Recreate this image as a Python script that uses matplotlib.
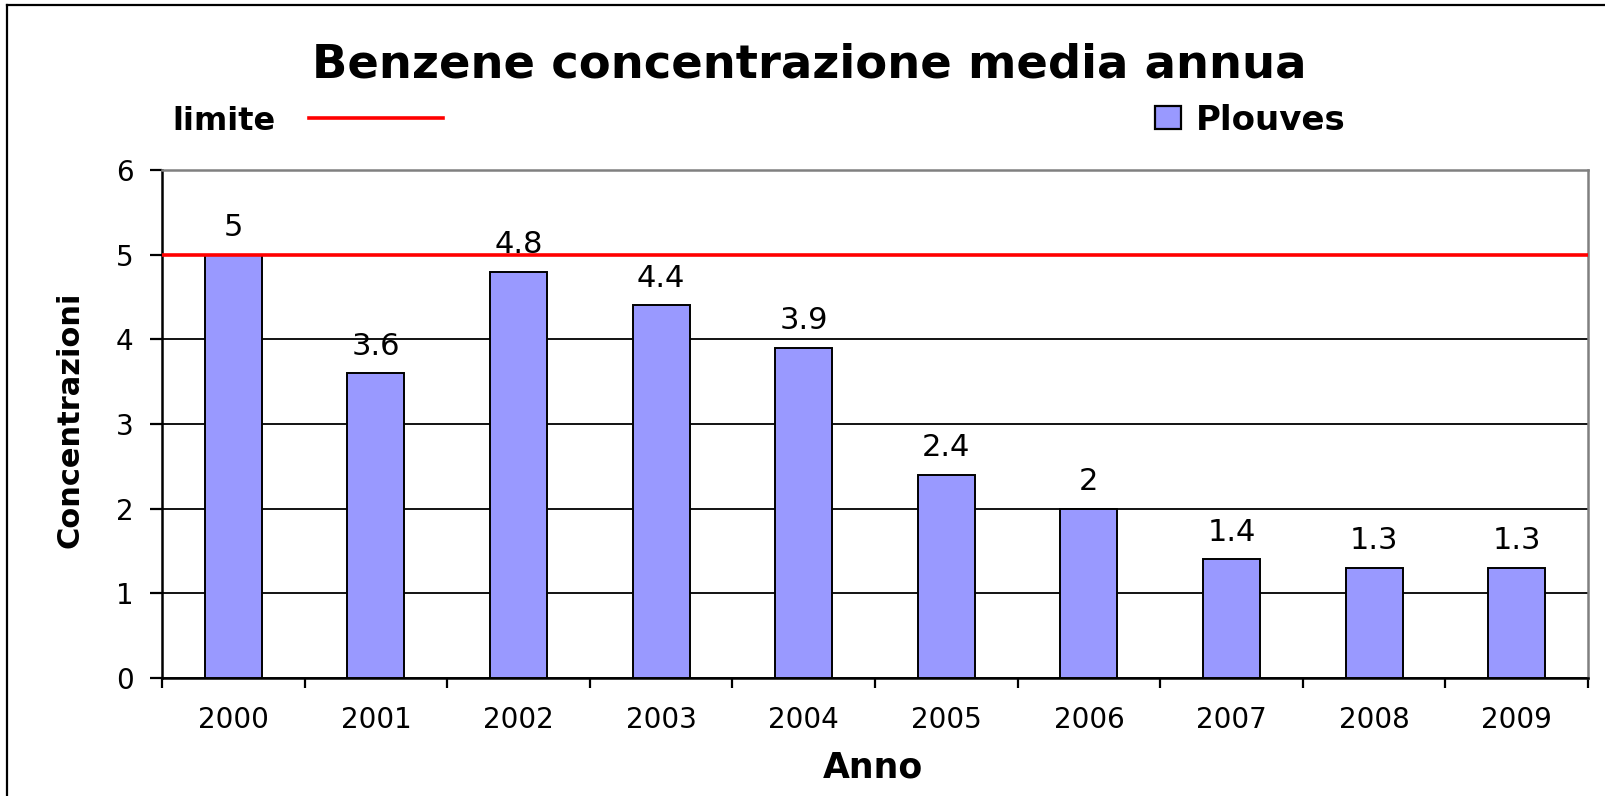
import matplotlib
matplotlib.use("Agg")
import matplotlib.pyplot as plt
from matplotlib.lines import Line2D
from matplotlib.patches import Rectangle
import numpy as np

# ---- data ----
years = ["2000", "2001", "2002", "2003", "2004", "2005", "2006", "2007", "2008", "2009"]
plouves = [5, 3.6, 4.8, 4.4, 3.9, 2.4, 2, 1.4, 1.3, 1.3]
limite = 5
title = "Benzene concentrazione media annua"
xlabel = "Anno"
ylabel = "Concentrazioni"

W, H = 1606, 796
plt.rcParams['font.family'] = ['DejaVu Sans']
fig = plt.figure(figsize=(W / 100, H / 100), dpi=100)
fig.patch.set_facecolor('white')

ax = fig.add_axes([162 / W, 1 - 678 / H, (1588 - 162) / W, (678 - 170) / H])

x = np.arange(len(years))
bars = ax.bar(x, plouves, width=0.4, color='#9999FF', edgecolor='black',
              linewidth=1.4, zorder=3, label='Plouves')
lim_line = ax.axhline(limite, color='#FF0000', linewidth=2.6, zorder=5, label='limite')

ax.bar_label(bars, fmt='%g', padding=9, fontsize=22, zorder=4)

ax.set_xlim(-0.5, len(years) - 0.5)
ax.set_ylim(0, 6)
ax.set_yticks(range(0, 7))
ax.set_xticks(x)
ax.set_xticklabels(years)
ax.set_xticks(np.arange(-0.5, len(years), 1.0), minor=True)

ax.tick_params(axis='x', which='major', length=0, pad=20, labelsize=20)
ax.tick_params(axis='x', which='minor', length=7.5, width=1.6, direction='out', color='black')
ax.tick_params(axis='y', which='major', length=8.6, width=1.6, direction='out', pad=12, labelsize=20)

ax.yaxis.grid(True, color='black', linewidth=1.3, zorder=0)
ax.set_axisbelow(True)

for s in ['left', 'bottom']:
    ax.spines[s].set_color('black')
    ax.spines[s].set_linewidth(1.8)
for s in ['top', 'right']:
    ax.spines[s].set_color('#808080')
    ax.spines[s].set_linewidth(1.8)

ax.set_xlabel(xlabel, fontsize=25, fontweight='bold', va='center')
ax.xaxis.set_label_coords(0.4986, (678 - 768) / 508)
ax.set_ylabel(ylabel, fontsize=22, fontweight='bold', va='center')
ax.yaxis.set_label_coords((70 - 162) / 1426, (678 - 420) / 508)

fig.text(809 / W, 1 - 78 / H, title, ha='center', va='baseline',
         fontsize=33.5, fontweight='bold')

# legends
leg1 = fig.legend([lim_line], ['limite'], loc='center left',
                  bbox_to_anchor=(172 / W, 1 - 121 / H), frameon=False,
                  markerfirst=False, handlelength=4.2, handletextpad=1.05,
                  borderpad=0, borderaxespad=0,
                  prop={'size': 23, 'weight': 'bold'})
leg2 = fig.legend([Rectangle((0, 0), 1, 1, facecolor='#9999FF', edgecolor='black', linewidth=1.6)],
                  ['Plouves'], loc='center left',
                  bbox_to_anchor=(1155 / W, 1 - 120 / H), frameon=False,
                  handlelength=0.76, handleheight=0.64, handletextpad=0.45,
                  borderpad=0, borderaxespad=0,
                  prop={'size': 24.5, 'weight': 'bold'})

# figure frame (left and top edges visible)
fig.add_artist(Line2D([7 / W, 7 / W], [0, 1 - 5 / H], color='black', linewidth=1.6))
fig.add_artist(Line2D([7 / W, 1], [1 - 5 / H, 1 - 5 / H], color='black', linewidth=1.6))

fig.savefig('out.png', dpi=100, facecolor='white')
